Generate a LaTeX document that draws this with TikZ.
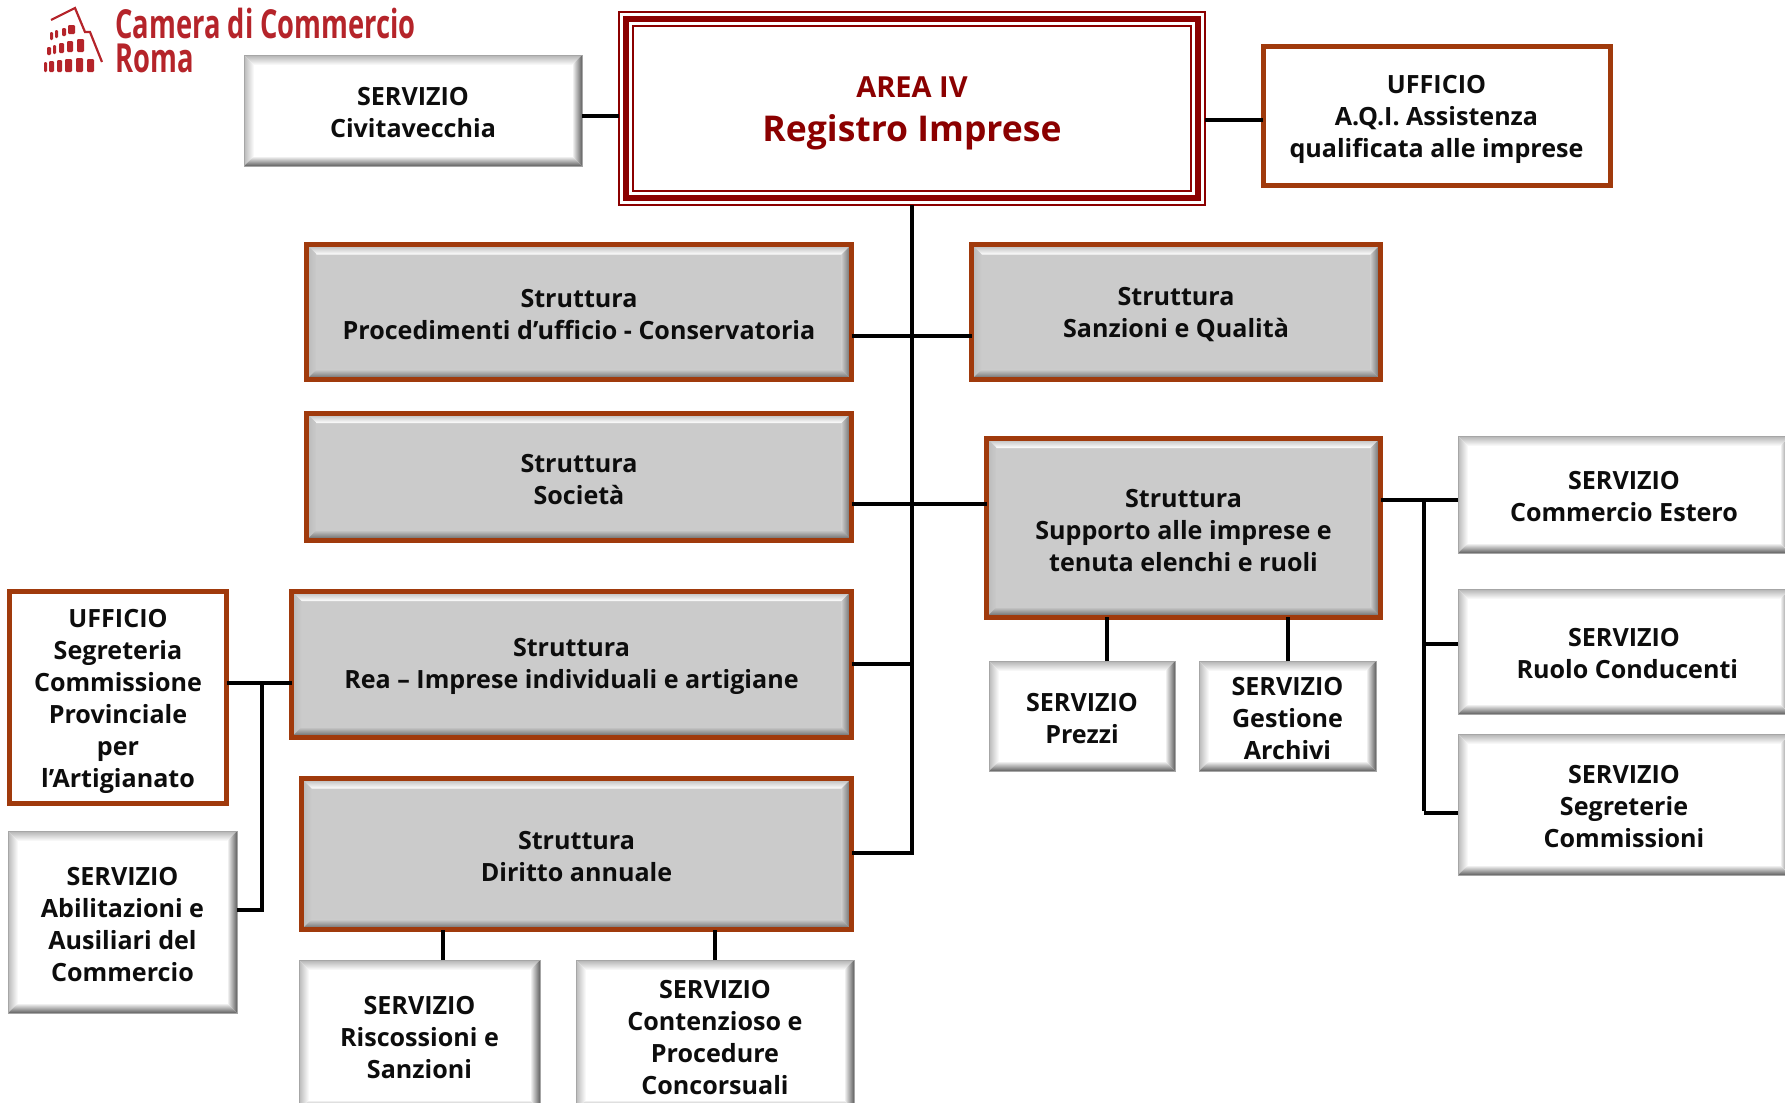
\documentclass[tikz,border=0pt]{standalone}
\usepackage{fontspec}
\setmainfont{Open Sans}
\usetikzlibrary{calc}
\definecolor{rust}{HTML}{A03A0C}
\definecolor{wine}{HTML}{8B0000}
\definecolor{logored}{HTML}{B5242A}
\definecolor{panel}{HTML}{CBCBCB}
\definecolor{shade}{HTML}{606060}
% bevel inside a box: #1 inner colour
\newcommand{\bevelbox}[1]{%
  \coordinate (nw) at (path picture bounding box.north west);
  \coordinate (se) at (path picture bounding box.south east);
  \coordinate (ne) at (path picture bounding box.north east);
  \coordinate (sw) at (path picture bounding box.south west);
  \begin{scope}
    \clip (nw) -- (ne) -- ([shift={(-5pt,-5pt)}]ne) -- ([shift={(5pt,-5pt)}]nw) -- cycle;
    \shade[top color=gray!60,bottom color=white] (nw) rectangle ([shift={(0,-5pt)}]ne);
  \end{scope}
  \begin{scope}
    \clip (nw) -- (sw) -- ([shift={(5pt,5pt)}]sw) -- ([shift={(5pt,-5pt)}]nw) -- cycle;
    \shade[left color=gray!55,right color=#1] (nw) rectangle ([shift={(5pt,0)}]sw);
  \end{scope}
  \begin{scope}
    \clip (ne) -- (se) -- ([shift={(-5pt,5pt)}]se) -- ([shift={(-5pt,-5pt)}]ne) -- cycle;
    \shade[right color=shade,left color=#1] (ne) rectangle ([shift={(-5pt,0)}]se);
  \end{scope}
  \begin{scope}
    \clip (sw) -- (se) -- ([shift={(-5pt,5pt)}]se) -- ([shift={(5pt,5pt)}]sw) -- cycle;
    \shade[bottom color=shade,top color=#1] (sw) rectangle ([shift={(0,5pt)}]se);
  \end{scope}}
\newcommand{\ringbox}[2]{%
  \draw[wine,line width=#2]
    ([shift={(#1,-#1)}]path picture bounding box.north west) rectangle
    ([shift={(-#1,#1)}]path picture bounding box.south east);}
% first line of a box, made taller so the text sits a little low
\newcommand{\lift}{\rule{0pt}{\liftheight}}
\tikzset{
  size/.style 2 args={minimum width=#1*.5pt,minimum height=#2*.5pt},
  firstline/.style={execute at begin node={\def\liftheight{#1}}},
  box/.style={rectangle,inner sep=0pt,outer sep=0pt,align=center,text=black!95,
    font=\fontsize{12.55}{16}\selectfont\bfseries},
  servizio/.style={box,firstline=11.3pt,draw=gray!70,line width=.5pt,fill=white,path picture={\bevelbox{white}}},
  struttura/.style={box,firstline=11.8pt,draw=rust,line width=2.5pt,fill=panel,path picture={\bevelbox{panel}}},
  ufficio/.style={box,firstline=13pt,draw=rust,line width=2.5pt,fill=white},
  area/.style={box,firstline=15pt,draw=wine,line width=1pt,fill=white,text=wine,
    path picture={\ringbox{3.5pt}{2.8pt}\ringbox{7pt}{1.25pt}}},
  link/.style={draw=black,line width=2pt},
  logotext/.style={inner sep=0pt,anchor=west,align=left,text=logored,
    font=\fontsize{20}{17}\selectfont\bfseries},
  arch/.style={fill=logored,rounded corners=.6pt}
}
\begin{document}
\begin{tikzpicture}[x=.5pt,y=-.5pt]
  \useasboundingbox (0,0) rectangle (1785,1103);

  % logo
  \node[logotext] (camera) at (115,40)
    {\scalebox{.683}[1]{Camera di Commercio}\\\scalebox{.683}[1]{Roma}};
  \draw[logored,line width=1.1pt] (51,20) -- (75,8) -- (85,32) -- (90,32) -- (102,62);
  \foreach \xa/\xb/\ya in {44/47/62,49/54/61,57/62/60,65/72/59,76/83/58,87/94/59}
    \fill[arch] (\xa,72) rectangle (\xb,\ya);
  \foreach \xa/\xb/\ya/\yb in {47/51/47/55,53/56/45/54,59/64/43/53,67/73/41/52,77/84/39/52}
    \fill[arch] (\xa,\yb) rectangle (\xb,\ya);
  \foreach \xa/\xb/\ya/\yb in {50/53/32/40,55/58/30/38,62/66/28/36,68/75/25/34}
    \fill[arch] (\xa,\yb) rectangle (\xb,\ya);

  % top row
  \node[area,size={586}{193}] (area) at (912,108.5)
    {\fontsize{14.5}{19}\selectfont\lift AREA IV\\[6pt]\fontsize{17.75}{20}\selectfont Registro Imprese};
  \node[servizio,size={338}{111}] (civita) at (413,110.5) {\lift SERVIZIO\\Civitavecchia};
  \node[ufficio,size={347}{139}] (aqi) at (1436.5,115.5)
    {\lift UFFICIO\\A.Q.I. Assistenza\\qualificata alle imprese};

  % strutture
  \node[struttura,size={545}{135}] (procedimenti) at (579,312)
    {\lift Struttura\\Procedimenti d’ufficio - Conservatoria};
  \node[struttura,size={409}{135}] (sanzioni) at (1176,312) {\lift Struttura\\Sanzioni e Qualità};
  \node[struttura,size={545}{127}] (societa) at (579,476.5) {\lift Struttura\\Società};
  \node[struttura,size={394}{179}] (supporto) at (1183.5,527.5)
    {\lift Struttura\\Supporto alle imprese e\\tenuta elenchi e ruoli};
  \node[struttura,size={560}{146}] (rea) at (571.5,664)
    {\lift Struttura\\Rea – Imprese individuali e artigiane};
  \node[struttura,size={550}{151}] (diritto) at (576.5,854) {\lift Struttura\\Diritto annuale};

  % servizi e uffici
  \node[servizio,size={332}{117}] (estero) at (1624,494.5) {\lift SERVIZIO\\Commercio Estero};
  \node[servizio,size={332}{125}] (ruolo) at (1624,651.5) {\lift SERVIZIO\\\hspace*{3.4pt}Ruolo Conducenti};
  \node[servizio,size={332}{141}] (segreterie) at (1624,804.5)
    {\lift SERVIZIO\\Segreterie\\Commissioni};
  \node[servizio,size={186}{110}] (prezzi) at (1082,716) {\lift SERVIZIO\\Prezzi};
  \node[servizio,size={177}{110}] (archivi) at (1287.5,716) {\lift SERVIZIO\\Gestione\\Archivi};
  \node[ufficio,size={217}{212}] (commissione) at (118,697.5)
    {\lift UFFICIO\\Segreteria\\Commissione\\Provinciale\\per\\l’Artigianato};
  \node[servizio,size={229}{182}] (abilitazioni) at (122.5,922)
    {\lift SERVIZIO\\Abilitazioni e\\Ausiliari del\\Commercio};
  \node[servizio,size={241}{150}] (riscossioni) at (419.5,1035)
    {\lift SERVIZIO\\Riscossioni e\\Sanzioni};
  \node[servizio,size={278}{150}] (contenzioso) at (715,1035)
    {\lift SERVIZIO\\Contenzioso e\\Procedure\\Concorsuali};

  % collegamenti
  \coordinate (trunk) at (912,853);
  \coordinate (destra) at (1424,811);
  \coordinate (sinistra) at (262,683);
  \path[link] (area.south) -- (trunk) -- (diritto.east |- trunk);
  \path[link] (civita.east |- 0,116) -- (area.west |- 0,116);
  \path[link] (area.east |- 0,120) -- (aqi.west |- 0,120);
  \path[link] (procedimenti.east |- 0,336) -- (sanzioni.west |- 0,336);
  \path[link] (societa.east |- 0,504) -- (supporto.west |- 0,504);
  \path[link] (rea.east |- 0,664) -- (912,664);
  \path[link] (supporto.east |- 0,500) -- (estero.west |- 0,500);
  \path[link] (destra |- 0,500) -- (destra);
  \path[link] (destra |- 0,644) -- (ruolo.west |- 0,644);
  \path[link] (destra |- 0,813) -- (segreterie.west |- 0,813);
  \path[link] (prezzi.north -| 1107,0) -- (supporto.south -| 1107,0);
  \path[link] (archivi.north) -- (supporto.south -| archivi.north);
  \path[link] (commissione.east |- sinistra) -- (rea.west |- sinistra);
  \path[link] (sinistra) -- (262,910) -- (abilitazioni.east |- 0,910);
  \path[link] (riscossioni.north -| 443,0) -- (diritto.south -| 443,0);
  \path[link] (contenzioso.north) -- (diritto.south -| contenzioso.north);
\end{tikzpicture}
\end{document}
